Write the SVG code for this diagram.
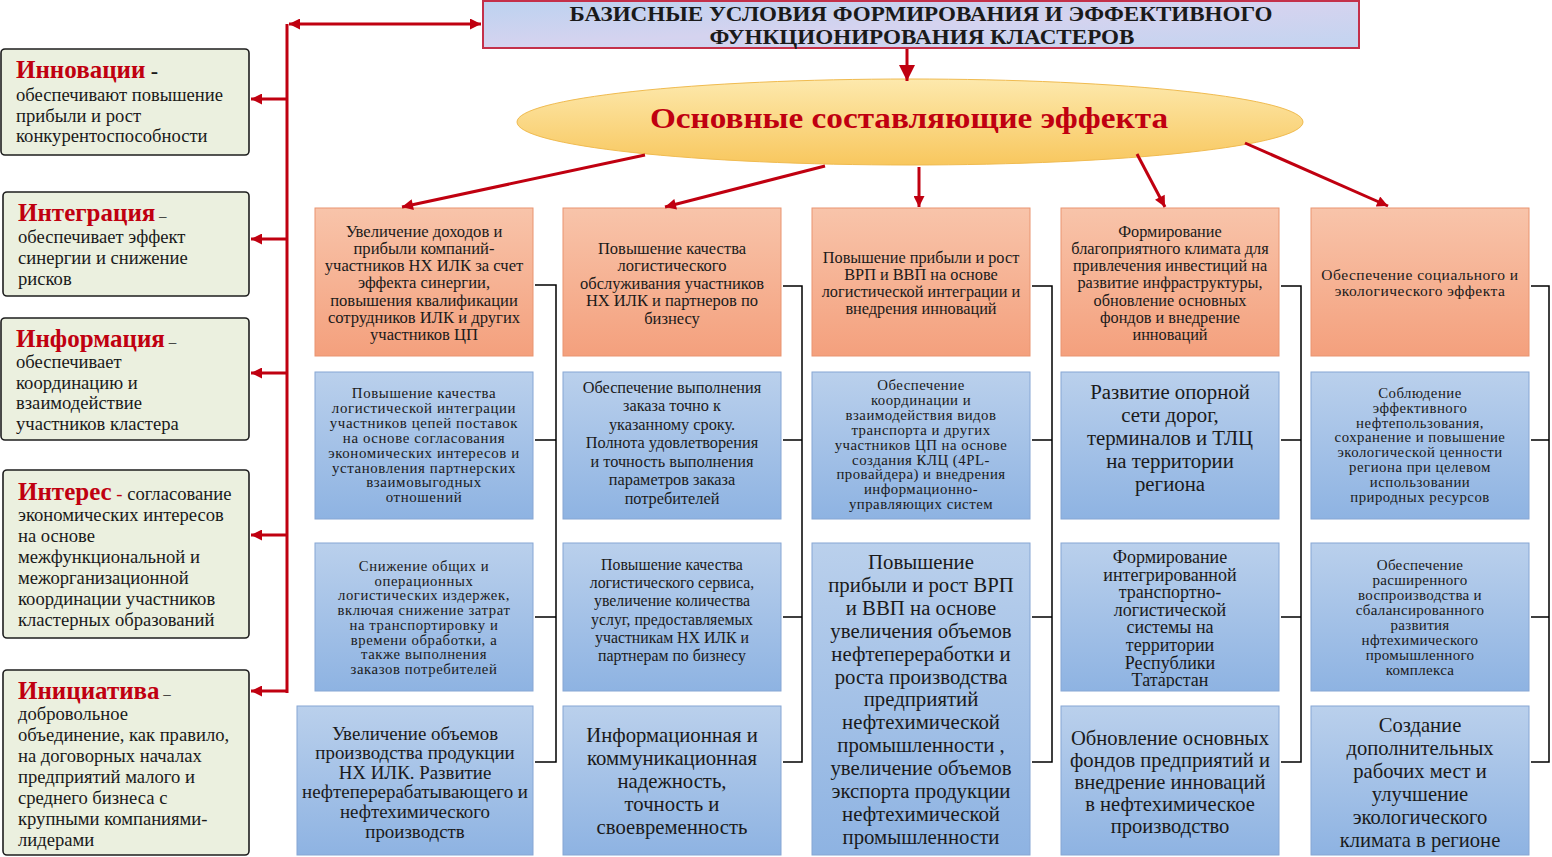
<svg xmlns="http://www.w3.org/2000/svg" width="1552" height="857" viewBox="0 0 1552 857">
<defs>
<linearGradient id="gOr" x1="0" y1="0" x2="0" y2="1"><stop offset="0" stop-color="#f8c4aa"/><stop offset="1" stop-color="#f4a07d"/></linearGradient>
<linearGradient id="gBl" x1="0" y1="0" x2="0" y2="1"><stop offset="0" stop-color="#bad0ec"/><stop offset="1" stop-color="#8eb3e2"/></linearGradient>
<linearGradient id="gEl" x1="0" y1="0" x2="0" y2="1"><stop offset="0" stop-color="#fde9ad"/><stop offset="1" stop-color="#f8c75e"/></linearGradient>
<linearGradient id="gTi" x1="0" y1="0" x2="1" y2="1"><stop offset="0" stop-color="#bcd2f0"/><stop offset="0.5" stop-color="#d5d3ef"/><stop offset="1" stop-color="#c2d4f0"/></linearGradient>
<marker id="ar" viewBox="0 0 10 10" refX="10" refY="5" markerWidth="13" markerHeight="11" markerUnits="userSpaceOnUse" orient="auto-start-reverse"><path d="M0,0 L10,5 L0,10 z" fill="#c00010"/></marker>
<marker id="arB" viewBox="0 0 10 10" refX="10" refY="5" markerWidth="18" markerHeight="16" markerUnits="userSpaceOnUse" orient="auto"><path d="M0,0 L10,5 L0,10 z" fill="#c00010"/></marker>
<clipPath id="cp4"><rect x="1061" y="543" width="218" height="145"/></clipPath>
</defs>
<style>
.or{fill:url(#gOr);stroke:#e99470;stroke-width:1}
.bl{fill:url(#gBl);stroke:#86a6d4;stroke-width:1}
.lb{fill:#ebf0df;stroke:#1e1e1e;stroke-width:1.6}
.t{font-family:"Liberation Serif","DejaVu Serif",serif;fill:#1a1a1a;text-anchor:middle}
.lt{font-family:"Liberation Serif","DejaVu Serif",serif;fill:#1a1a1a;font-size:18.6px}
.hd{font-weight:bold;fill:#c00010;font-size:25px}
.red{stroke:#c00010;stroke-width:3;fill:none}
.blk{stroke:#000;stroke-width:1.5;fill:none}
</style>

<g id="title">
<rect x="483" y="1" width="876" height="47" fill="url(#gTi)" stroke="#c4304a" stroke-width="2"/>
<text class="t" x="921" y="21" font-size="21" font-weight="bold" textLength="703" lengthAdjust="spacingAndGlyphs">БАЗИСНЫЕ УСЛОВИЯ ФОРМИРОВАНИЯ И ЭФФЕКТИВНОГО</text>
<text class="t" x="922" y="44" font-size="21" font-weight="bold" textLength="425" lengthAdjust="spacingAndGlyphs">ФУНКЦИОНИРОВАНИЯ КЛАСТЕРОВ</text>
</g>

<g id="effect">
<ellipse cx="910" cy="122" rx="393" ry="43" fill="url(#gEl)" stroke="#f0bb50" stroke-width="1"/>
<text class="t" x="909" y="128" font-size="30" font-weight="bold" style="fill:#c00010" textLength="518" lengthAdjust="spacingAndGlyphs">Основные составляющие эффекта</text>
</g>

<g id="left1">
<rect class="lb" x="1" y="49" width="248" height="106" rx="4"/>
<text class="lt" x="16" y="78"><tspan class="hd">Инновации</tspan><tspan font-weight="bold" font-size="22"> -</tspan></text>
<text class="lt" x="16" y="101"><tspan x="16">обеспечивают повышение</tspan><tspan x="16" dy="20.5">прибыли и рост</tspan><tspan x="16" dy="20.5">конкурентоспособности</tspan></text>
</g>
<g id="left2">
<rect class="lb" x="3" y="192" width="246" height="104" rx="4"/>
<text class="lt" x="18" y="221"><tspan class="hd">Интеграция</tspan><tspan font-size="15"> –</tspan></text>
<text class="lt" x="18" y="243"><tspan x="18">обеспечивает эффект</tspan><tspan x="18" dy="21">синергии и снижение</tspan><tspan x="18" dy="21">рисков</tspan></text>
</g>
<g id="left3">
<rect class="lb" x="1" y="318" width="248" height="122" rx="4"/>
<text class="lt" x="16" y="347"><tspan class="hd">Информация</tspan><tspan font-size="15"> –</tspan></text>
<text class="lt" x="16" y="368"><tspan x="16">обеспечивает</tspan><tspan x="16" dy="20.7">координацию и</tspan><tspan x="16" dy="20.7">взаимодействие</tspan><tspan x="16" dy="20.7">участников кластера</tspan></text>
</g>
<g id="left4">
<rect class="lb" x="3" y="470" width="246" height="168" rx="4"/>
<text class="lt" x="18" y="500"><tspan class="hd">Интерес</tspan><tspan fill="#c00010"> - </tspan><tspan>согласование</tspan></text>
<text class="lt" x="18" y="521"><tspan x="18">экономических интересов</tspan><tspan x="18" dy="21">на основе</tspan><tspan x="18" dy="21">межфункциональной и</tspan><tspan x="18" dy="21">межорганизационной</tspan><tspan x="18" dy="21">координации участников</tspan><tspan x="18" dy="21">кластерных образований</tspan></text>
</g>
<g id="left5">
<rect class="lb" x="3" y="670" width="246" height="185" rx="4"/>
<text class="lt" x="18" y="699"><tspan class="hd">Инициатива</tspan><tspan font-size="15"> –</tspan></text>
<text class="lt" x="18" y="720"><tspan x="18">добровольное</tspan><tspan x="18" dy="21">объединение, как правило,</tspan><tspan x="18" dy="21">на договорных началах</tspan><tspan x="18" dy="21">предприятий малого и</tspan><tspan x="18" dy="21">среднего бизнеса с</tspan><tspan x="18" dy="21">крупными компаниями-</tspan><tspan x="18" dy="21">лидерами</tspan></text>
</g>

<g id="c1o"><rect class="or" x="315" y="208" width="218" height="148"/>
<text class="t" font-size="16.6" y="236.5"><tspan x="424">Увеличение доходов и</tspan><tspan x="424" dy="17.3">прибыли компаний-</tspan><tspan x="424" dy="17.3">участников НХ ИЛК за счет</tspan><tspan x="424" dy="17.3">эффекта синергии,</tspan><tspan x="424" dy="17.3">повышения квалификации</tspan><tspan x="424" dy="17.3">сотрудников ИЛК и других</tspan><tspan x="424" dy="17.3">участников ЦП</tspan></text></g>
<g id="c1b1"><rect class="bl" x="315" y="372" width="218" height="147"/>
<text class="t" font-size="14.9" letter-spacing="0.6" y="398"><tspan x="424">Повышение качества</tspan><tspan x="424" dy="14.9">логистической интеграции</tspan><tspan x="424" dy="14.9">участников цепей поставок</tspan><tspan x="424" dy="14.9">на основе согласования</tspan><tspan x="424" dy="14.9">экономических интересов и</tspan><tspan x="424" dy="14.9">установления партнерских</tspan><tspan x="424" dy="14.9">взаимовыгодных</tspan><tspan x="424" dy="14.9">отношений</tspan></text></g>
<g id="c1b2"><rect class="bl" x="315" y="543" width="218" height="148"/>
<text class="t" font-size="14.7" letter-spacing="0.6" y="571"><tspan x="424">Снижение общих и</tspan><tspan x="424" dy="14.7">операционных</tspan><tspan x="424" dy="14.7">логистических издержек,</tspan><tspan x="424" dy="14.7">включая снижение затрат</tspan><tspan x="424" dy="14.7">на транспортировку и</tspan><tspan x="424" dy="14.7">времени обработки, а</tspan><tspan x="424" dy="14.7">также выполнения</tspan><tspan x="424" dy="14.7">заказов потребителей</tspan></text></g>
<g id="c1b3"><rect class="bl" x="297" y="706" width="236" height="149"/>
<text class="t" font-size="18.9" y="739.5"><tspan x="415">Увеличение объемов</tspan><tspan x="415" dy="19.6">производства продукции</tspan><tspan x="415" dy="19.6">НХ ИЛК. Развитие</tspan><tspan x="415" dy="19.6">нефтеперерабатывающего и</tspan><tspan x="415" dy="19.6">нефтехимического</tspan><tspan x="415" dy="19.6">производств</tspan></text></g>

<g id="c2o"><rect class="or" x="563" y="208" width="218" height="148"/>
<text class="t" font-size="16.5" y="253.5"><tspan x="672">Повышение качества</tspan><tspan x="672" dy="17.5">логистического</tspan><tspan x="672" dy="17.5">обслуживания участников</tspan><tspan x="672" dy="17.5">НХ ИЛК и партнеров по</tspan><tspan x="672" dy="17.5">бизнесу</tspan></text></g>
<g id="c2b1"><rect class="bl" x="563" y="372" width="218" height="147"/>
<text class="t" font-size="16.3" y="392.5"><tspan x="672">Обеспечение выполнения</tspan><tspan x="672" dy="18.5">заказа точно к</tspan><tspan x="672" dy="18.5">указанному сроку.</tspan><tspan x="672" dy="18.5">Полнота удовлетворения</tspan><tspan x="672" dy="18.5">и точность выполнения</tspan><tspan x="672" dy="18.5">параметров заказа</tspan><tspan x="672" dy="18.5">потребителей</tspan></text></g>
<g id="c2b2"><rect class="bl" x="563" y="543" width="218" height="148"/>
<text class="t" font-size="15.8" y="570"><tspan x="672">Повышение качества</tspan><tspan x="672" dy="18.2">логистического сервиса,</tspan><tspan x="672" dy="18.2">увеличение количества</tspan><tspan x="672" dy="18.2">услуг, предоставляемых</tspan><tspan x="672" dy="18.2">участникам НХ ИЛК и</tspan><tspan x="672" dy="18.2">партнерам по бизнесу</tspan></text></g>
<g id="c2b3"><rect class="bl" x="563" y="706" width="218" height="149"/>
<text class="t" font-size="20.7" y="742"><tspan x="672">Информационная и</tspan><tspan x="672" dy="23">коммуникационная</tspan><tspan x="672" dy="23">надежность,</tspan><tspan x="672" dy="23">точность и</tspan><tspan x="672" dy="23">своевременность</tspan></text></g>

<g id="c3o"><rect class="or" x="812" y="208" width="218" height="148"/>
<text class="t" font-size="16.3" y="262.5"><tspan x="921">Повышение прибыли и рост</tspan><tspan x="921" dy="17.3">ВРП и ВВП на основе</tspan><tspan x="921" dy="17.3">логистической интеграции и</tspan><tspan x="921" dy="17.3">внедрения инноваций</tspan></text></g>
<g id="c3b1"><rect class="bl" x="812" y="372" width="218" height="147"/>
<text class="t" font-size="14.8" letter-spacing="0.5" y="390"><tspan x="921">Обеспечение</tspan><tspan x="921" dy="14.9">координации и</tspan><tspan x="921" dy="14.9">взаимодействия видов</tspan><tspan x="921" dy="14.9">транспорта и других</tspan><tspan x="921" dy="14.9">участников ЦП на основе</tspan><tspan x="921" dy="14.9">создания КЛЦ (4PL-</tspan><tspan x="921" dy="14.9">провайдера) и внедрения</tspan><tspan x="921" dy="14.9">информационно-</tspan><tspan x="921" dy="14.9">управляющих систем</tspan></text></g>
<g id="c3b2"><rect class="bl" x="812" y="543" width="218" height="312"/>
<text class="t" font-size="20.8" y="569"><tspan x="921">Повышение</tspan><tspan x="921" dy="22.9">прибыли и рост ВРП</tspan><tspan x="921" dy="22.9">и ВВП на основе</tspan><tspan x="921" dy="22.9">увеличения объемов</tspan><tspan x="921" dy="22.9">нефтепереработки и</tspan><tspan x="921" dy="22.9">роста производства</tspan><tspan x="921" dy="22.9">предприятий</tspan><tspan x="921" dy="22.9">нефтехимической</tspan><tspan x="921" dy="22.9">промышленности ,</tspan><tspan x="921" dy="22.9">увеличение объемов</tspan><tspan x="921" dy="22.9">экспорта продукции</tspan><tspan x="921" dy="22.9">нефтехимической</tspan><tspan x="921" dy="22.9">промышленности</tspan></text></g>

<g id="c4o"><rect class="or" x="1061" y="208" width="218" height="148"/>
<text class="t" font-size="16.3" y="236.5"><tspan x="1170">Формирование</tspan><tspan x="1170" dy="17.3">благоприятного климата для</tspan><tspan x="1170" dy="17.3">привлечения инвестиций на</tspan><tspan x="1170" dy="17.3">развитие инфраструктуры,</tspan><tspan x="1170" dy="17.3">обновление основных</tspan><tspan x="1170" dy="17.3">фондов и внедрение</tspan><tspan x="1170" dy="17.3">инноваций</tspan></text></g>
<g id="c4b1"><rect class="bl" x="1061" y="372" width="218" height="147"/>
<text class="t" font-size="20.8" y="399"><tspan x="1170">Развитие опорной</tspan><tspan x="1170" dy="23">сети дорог,</tspan><tspan x="1170" dy="23">терминалов и ТЛЦ</tspan><tspan x="1170" dy="23">на территории</tspan><tspan x="1170" dy="23">региона</tspan></text></g>
<g id="c4b2"><rect class="bl" x="1061" y="543" width="218" height="148"/>
<text class="t" font-size="18" y="563" clip-path="url(#cp4)"><tspan x="1170">Формирование</tspan><tspan x="1170" dy="17.6">интегрированной</tspan><tspan x="1170" dy="17.6">транспортно-</tspan><tspan x="1170" dy="17.6">логистической</tspan><tspan x="1170" dy="17.6">системы на</tspan><tspan x="1170" dy="17.6">территории</tspan><tspan x="1170" dy="17.6">Республики</tspan><tspan x="1170" dy="17.6">Татарстан</tspan></text></g>
<g id="c4b3"><rect class="bl" x="1061" y="706" width="218" height="149"/>
<text class="t" font-size="20.6" y="745"><tspan x="1170">Обновление основных</tspan><tspan x="1170" dy="22">фондов предприятий и</tspan><tspan x="1170" dy="22">внедрение инноваций</tspan><tspan x="1170" dy="22">в нефтехимическое</tspan><tspan x="1170" dy="22">производство</tspan></text></g>

<g id="c5o"><rect class="or" x="1311" y="208" width="218" height="148"/>
<text class="t" font-size="15.5" letter-spacing="0.5" y="280"><tspan x="1420">Обеспечение социального и</tspan><tspan x="1420" dy="16">экологического эффекта</tspan></text></g>
<g id="c5b1"><rect class="bl" x="1311" y="372" width="218" height="147"/>
<text class="t" font-size="14.8" letter-spacing="0.5" y="398"><tspan x="1420">Соблюдение</tspan><tspan x="1420" dy="14.8">эффективного</tspan><tspan x="1420" dy="14.8">нефтепользования,</tspan><tspan x="1420" dy="14.8">сохранение и повышение</tspan><tspan x="1420" dy="14.8">экологической ценности</tspan><tspan x="1420" dy="14.8">региона при целевом</tspan><tspan x="1420" dy="14.8">использовании</tspan><tspan x="1420" dy="14.8">природных ресурсов</tspan></text></g>
<g id="c5b2"><rect class="bl" x="1311" y="543" width="218" height="148"/>
<text class="t" font-size="15" letter-spacing="0.3" y="570"><tspan x="1420">Обеспечение</tspan><tspan x="1420" dy="15">расширенного</tspan><tspan x="1420" dy="15">воспроизводства и</tspan><tspan x="1420" dy="15">сбалансированного</tspan><tspan x="1420" dy="15">развития</tspan><tspan x="1420" dy="15">нфтехимического</tspan><tspan x="1420" dy="15">промышленного</tspan><tspan x="1420" dy="15">комплекса</tspan></text></g>
<g id="c5b3"><rect class="bl" x="1311" y="706" width="218" height="149"/>
<text class="t" font-size="20.6" y="732"><tspan x="1420">Создание</tspan><tspan x="1420" dy="23">дополнительных</tspan><tspan x="1420" dy="23">рабочих мест и</tspan><tspan x="1420" dy="23">улучшение</tspan><tspan x="1420" dy="23">экологического</tspan><tspan x="1420" dy="23">климата в регионе</tspan></text></g>

<g id="connectors">
<path class="red" d="M287,24 L287,693" stroke-width="3.5"/>
<path class="red" d="M289,24 L481,24" marker-start="url(#ar)" marker-end="url(#ar)"/>
<path class="red" d="M287,99 L251,99" marker-end="url(#ar)"/>
<path class="red" d="M287,239 L251,239" marker-end="url(#ar)"/>
<path class="red" d="M287,373 L251,373" marker-end="url(#ar)"/>
<path class="red" d="M287,535 L251,535" marker-end="url(#ar)"/>
<path class="red" d="M287,691 L251,691" marker-end="url(#ar)"/>
<path class="red" d="M907,49 L907,81" stroke-width="5" marker-end="url(#arB)"/>
<path class="red" d="M645,155 L402,207" marker-end="url(#ar)"/>
<path class="red" d="M825,166 L665,207" marker-end="url(#ar)"/>
<path class="red" d="M919,167 L919,207" marker-end="url(#ar)"/>
<path class="red" d="M1137,154 L1165,207" marker-end="url(#ar)"/>
<path class="red" d="M1245,143 L1388,206" marker-end="url(#ar)"/>
<path class="blk" d="M535,285 H556 V762 H535 M535,440 H556 M535,617 H556"/>
<path class="blk" d="M783,286 H802 V762 H783 M783,440 H802 M783,617 H802"/>
<path class="blk" d="M1032,286 H1052 V762 H1032 M1032,440 H1052 M1032,617 H1052"/>
<path class="blk" d="M1281,286 H1301 V762 H1281 M1281,440 H1301 M1281,617 H1301"/>
<path class="blk" d="M1531,286 H1549 V762 H1531 M1531,440 H1549 M1531,617 H1549"/>
</g>
</svg>
